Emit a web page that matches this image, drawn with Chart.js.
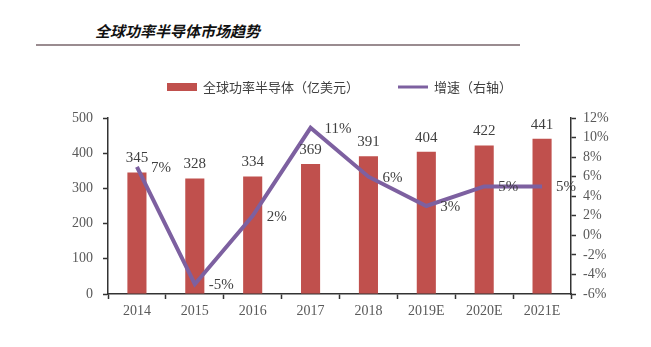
<!DOCTYPE html>
<html>
<head>
<meta charset="utf-8">
<script src="https://cdn.jsdelivr.net/npm/chart.js@4.4.1/dist/chart.umd.min.js"></script>
<style>
  body { margin: 0; background: #fff; }
  #wrap { position: relative; width: 651px; height: 347px; }
  #title { position: absolute; left: 36px; top: 19px; width: 484px; height: 25px; border-bottom: 2px solid #9a8c90; }
  #title span { position: absolute; left: 59px; top: 1px; font: italic bold 15px "Noto Sans CJK SC"; color: #111; }
  canvas { position: absolute; left: 0; top: 0; }
</style>
</head>
<body>
<div id="wrap">
  <div id="title"><span>全球功率半导体市场趋势</span></div>
  <canvas id="marketChart" width="651" height="347"></canvas>
</div>
<script>
const years = ['2014', '2015', '2016', '2017', '2018', '2019E', '2020E', '2021E'];
const marketSize = [345, 328, 334, 369, 391, 404, 422, 441];   // 亿美元
const growth = [7, -5, 2, 11, 6, 3, 5, 5];                      // %
const sizeTicks = [0, 100, 200, 300, 400, 500];
const growthTicks = [-6, -4, -2, 0, 2, 4, 6, 8, 10, 12];

const BAR_RED = '#C0504D';
const LINE_PURPLE = '#7D60A0';
const AXIS = '#333333';
const TEXT = '#595959';
const SERIF = '"Liberation Serif", "Times New Roman", serif';

// numbers above bars and percentages beside the growth line
const valueLabels = {
    id: 'valueLabels',
    afterDatasetsDraw(chart) {
        const ctx = chart.ctx;
        ctx.save();
        ctx.font = '15px ' + SERIF;
        ctx.fillStyle = '#404040';
        chart.getDatasetMeta(0).data.forEach(function(bar, i) {
            ctx.textAlign = 'center';
            ctx.textBaseline = 'middle';
            ctx.fillText(marketSize[i], bar.x, bar.y - 14);
        });
        chart.getDatasetMeta(1).data.forEach(function(pt, i) {
            ctx.textAlign = 'left';
            ctx.textBaseline = 'middle';
            ctx.fillText(growth[i] + '%', pt.x + 14, pt.y + 1);
        });
        ctx.restore();
    }
};

// one-row legend sitting above the plot, bar first then line
const legendRow = {
    id: 'legendRow',
    afterDraw(chart) {
        const ctx = chart.ctx;
        const y = 87;
        let x = 167;
        ctx.save();
        ctx.font = '13px "Noto Sans CJK SC"';
        ctx.textAlign = 'left';
        ctx.textBaseline = 'middle';
        chart.data.datasets.forEach(function(ds) {
            if (ds.type === 'line') {
                ctx.strokeStyle = ds.borderColor;
                ctx.lineWidth = 3;
                ctx.beginPath();
                ctx.moveTo(x, y);
                ctx.lineTo(x + 30, y);
                ctx.stroke();
            } else {
                ctx.fillStyle = ds.backgroundColor;
                ctx.fillRect(x, y - 4, 30, 8);
            }
            x += 36;
            ctx.fillStyle = '#404040';
            ctx.fillText(ds.label, x, y);
            x += ctx.measureText(ds.label).width + 39;
        });
        ctx.restore();
    }
};

const ctx = document.getElementById('marketChart').getContext('2d');
const marketChart = new Chart(ctx, {
    type: 'bar',
    data: {
        labels: years,
        datasets: [
            {
                label: '全球功率半导体（亿美元）',
                data: marketSize,
                backgroundColor: BAR_RED,
                yAxisID: 'y',
                categoryPercentage: 1,
                barPercentage: 0.33,
                order: 1
            },
            {
                type: 'line',
                label: '增速（右轴）',
                data: growth,
                borderColor: LINE_PURPLE,
                borderWidth: 4,
                pointRadius: 0,
                tension: 0,
                yAxisID: 'y1',
                order: 0
            }
        ]
    },
    options: {
        responsive: false,
        animation: false,
        layout: { padding: { left: 0, top: 118, right: 0, bottom: 0 } },
        plugins: {
            tooltip: { enabled: false },
            legend: { display: false }
        },
        scales: {
            x: {
                grid: { display: true, drawOnChartArea: false, offset: true, tickLength: 5, tickColor: AXIS, tickWidth: 1.5 },
                border: { color: AXIS, width: 1.5 },
                ticks: { color: TEXT, padding: 4, font: { family: SERIF, size: 14 } },
                afterFit: function(s) { s.height = 53; }
            },
            y: {
                position: 'left',
                min: sizeTicks[0],
                max: sizeTicks[sizeTicks.length - 1],
                ticks: { stepSize: sizeTicks[1] - sizeTicks[0], color: TEXT, padding: 10, font: { family: SERIF, size: 14 } },
                grid: { drawOnChartArea: false, tickLength: 5, tickColor: AXIS, tickWidth: 1.5 },
                border: { color: AXIS, width: 1.5 },
                afterFit: function(s) { s.width = 108; }
            },
            y1: {
                position: 'right',
                min: growthTicks[0],
                max: growthTicks[growthTicks.length - 1],
                ticks: {
                    stepSize: growthTicks[1] - growthTicks[0],
                    autoSkip: false,
                    color: TEXT,
                    padding: 7,
                    font: { family: SERIF, size: 14, lineHeight: 1 },
                    callback: function(v) { return v + '%'; }
                },
                grid: { drawOnChartArea: false, tickLength: 5, tickColor: AXIS, tickWidth: 1.5 },
                border: { color: AXIS, width: 1.5 },
                afterFit: function(s) { s.width = 80; }
            }
        }
    },
    plugins: [valueLabels, legendRow]
});
</script>
</body>
</html>
